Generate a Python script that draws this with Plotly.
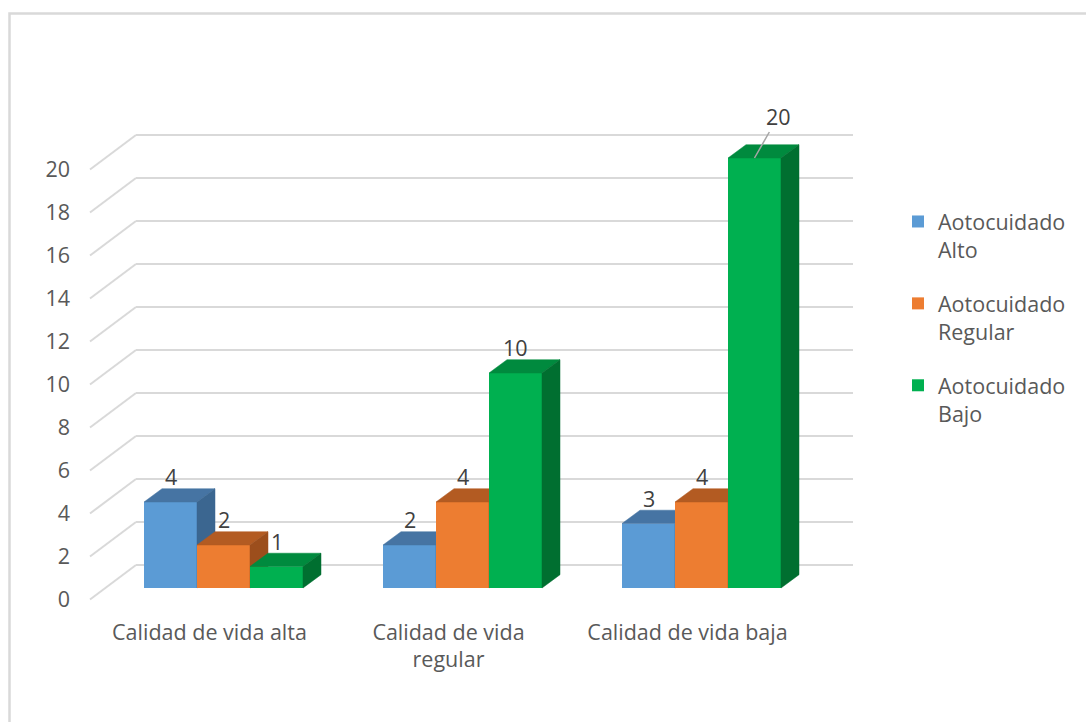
import plotly.graph_objects as go

# ---------------- data ----------------
categories = ["Calidad de vida alta", "Calidad de vida<br>regular", "Calidad de vida baja"]
series_names = ["Aotocuidado<br>Alto", "Aotocuidado<br>Regular", "Aotocuidado<br>Bajo"]
aotocuidado_alto = [4, 2, 3]
aotocuidado_regular = [2, 4, 4]
aotocuidado_bajo = [1, 10, 20]
y_tick_values = [0, 2, 4, 6, 8, 10, 12, 14, 16, 18, 20]

series_values = [aotocuidado_alto, aotocuidado_regular, aotocuidado_bajo]

# ---------------- styles ----------------
front_colors = ["#5B9BD5", "#ED7D31", "#00B050"]
top_colors = ["#4674A3", "#B35B22", "#008A3E"]
side_colors = ["#3B6690", "#9C4E1C", "#006F30"]
grid_color = "#D9D9D9"
tick_font = dict(family="Open Sans", size=21.5, color="#595959")
label_font = dict(family="Open Sans", size=21.5, color="#404040")

# ---------------- geometry (pixel scale of the layout) ----------------
W, H = 1086, 722
L, R, T, B = 88, 856, 130, 604          # plot area in pixels
PX_X = 239.0                             # pixels per category
PX_Y = 21.5                              # pixels per value unit
front_left_px, front_zero_px = 104, 588  # front plane of bars
x_lo = -0.5 - (front_left_px - L) / PX_X
x_hi = x_lo + (R - L) / PX_X
y_lo = -(B - front_zero_px) / PX_Y
y_hi = y_lo + (B - T) / PX_Y

group_frac = 159 / 239.0
bw = group_frac / 3
ddx, ddy = 18 / PX_X, 13.3 / PX_Y       # bar depth
wdx, wdy = 32 / PX_X, 23 / PX_Y         # back wall offset
ldx, ldy = -14 / PX_X, -11.5 / PX_Y     # label plane offset

fig = go.Figure()

xs = list(range(len(categories)))
for j, (name, vals) in enumerate(zip(series_names, series_values)):
    xa = "x" if j == 0 else f"x{j+1}"
    ya = "y" if j == 0 else f"y{j+1}"
    off = -group_frac / 2 + j * bw
    fig.add_trace(go.Bar(
        x=xs, y=vals, width=bw, offset=off, name=name,
        marker=dict(color=front_colors[j], line=dict(width=0)),
        legendgroup=f"g{j}", xaxis=xa, yaxis=ya, hoverinfo="y",
    ))
    top_x, top_y, side_x, side_y = [], [], [], []
    for i, v in zip(xs, vals):
        x0 = i + off
        x1 = x0 + bw
        top_x += [x0, x1, x1 + ddx, x0 + ddx, x0, None]
        top_y += [v, v, v + ddy, v + ddy, v, None]
        side_x += [x1, x1, x1 + ddx, x1 + ddx, x1, None]
        side_y += [0, v, v + ddy, ddy, 0, None]
    for px_, py_, col in ((top_x, top_y, top_colors[j]), (side_x, side_y, side_colors[j])):
        fig.add_trace(go.Scatter(
            x=px_, y=py_, mode="lines", fill="toself", fillcolor=col,
            line=dict(color=col, width=0.5), showlegend=False,
            hoverinfo="skip", xaxis=xa, yaxis=ya,
        ))

# back-wall gridlines with perspective diagonals
shapes = []
for v in y_tick_values:
    shapes.append(dict(type="line", xref="x", yref="y", layer="below",
                       x0=-0.5 + wdx, x1=2.5 + wdx, y0=v + wdy, y1=v + wdy,
                       line=dict(color=grid_color, width=2)))
    shapes.append(dict(type="line", xref="x", yref="y", layer="below",
                       x0=-0.5 + ldx, x1=-0.5 + wdx, y0=v + ldy, y1=v + wdy,
                       line=dict(color=grid_color, width=2)))
# chart border
shapes.append(dict(type="rect", xref="paper", yref="paper",
                   x0=(9.5 - L) / (R - L), x1=(W + 10 - L) / (R - L),
                   y0=(B - (H + 10)) / (B - T), y1=(B - 13.5) / (B - T),
                   line=dict(color="#D9D9D9", width=2.5), fillcolor="rgba(0,0,0,0)"))

# data labels
annotations = []
vmax = max(max(v) for v in series_values)
for j, vals in enumerate(series_values):
    off = -group_frac / 2 + j * bw
    for i, v in zip(xs, vals):
        xc = i + off + bw / 2
        if v == vmax:
            annotations.append(dict(x=xc, y=v, xref="x", yref="y", text=str(v),
                                    showarrow=True, arrowhead=0, arrowwidth=1.5,
                                    arrowcolor="#A6A6A6", ax=24, ay=-42,
                                    font=label_font))
        else:
            annotations.append(dict(x=xc, y=v, xref="x", yref="y", text=str(v),
                                    showarrow=False, yanchor="middle", yshift=25.5,
                                    font=label_font))

axis_hidden = dict(range=[x_lo, x_hi], visible=False, fixedrange=True)
fig.update_layout(
    width=W, height=H,
    margin=dict(l=L, r=W - R, t=T, b=H - B, autoexpand=False),
    paper_bgcolor="white", plot_bgcolor="rgba(0,0,0,0)",
    showlegend=True,
    xaxis=dict(range=[x_lo, x_hi], tickvals=xs, ticktext=categories,
               showgrid=False, zeroline=False, showline=False, ticks="",
               tickfont=tick_font, ticklabelshift=-14, ticklabelstandoff=13,
               fixedrange=True),
    yaxis=dict(range=[y_lo, y_hi], tickvals=y_tick_values,
               showgrid=False, zeroline=False, showline=False, ticks="",
               tickfont=tick_font, ticklabelshift=11, ticklabelstandoff=17,
               fixedrange=True),
    xaxis2=dict(axis_hidden, overlaying="x", anchor="y2"),
    xaxis3=dict(axis_hidden, overlaying="x", anchor="y3"),
    yaxis2=dict(range=[y_lo, y_hi], visible=False, overlaying="y", anchor="x2", fixedrange=True),
    yaxis3=dict(range=[y_lo, y_hi], visible=False, overlaying="y", anchor="x3", fixedrange=True),
    legend=dict(xref="container", yref="container", x=898 / W, y=1 - 201 / H,
                xanchor="left", yanchor="top", valign="top", tracegroupgap=23,
                font=tick_font, bgcolor="rgba(0,0,0,0)"),
    shapes=shapes, annotations=annotations,
)

fig.write_html("out.html")
